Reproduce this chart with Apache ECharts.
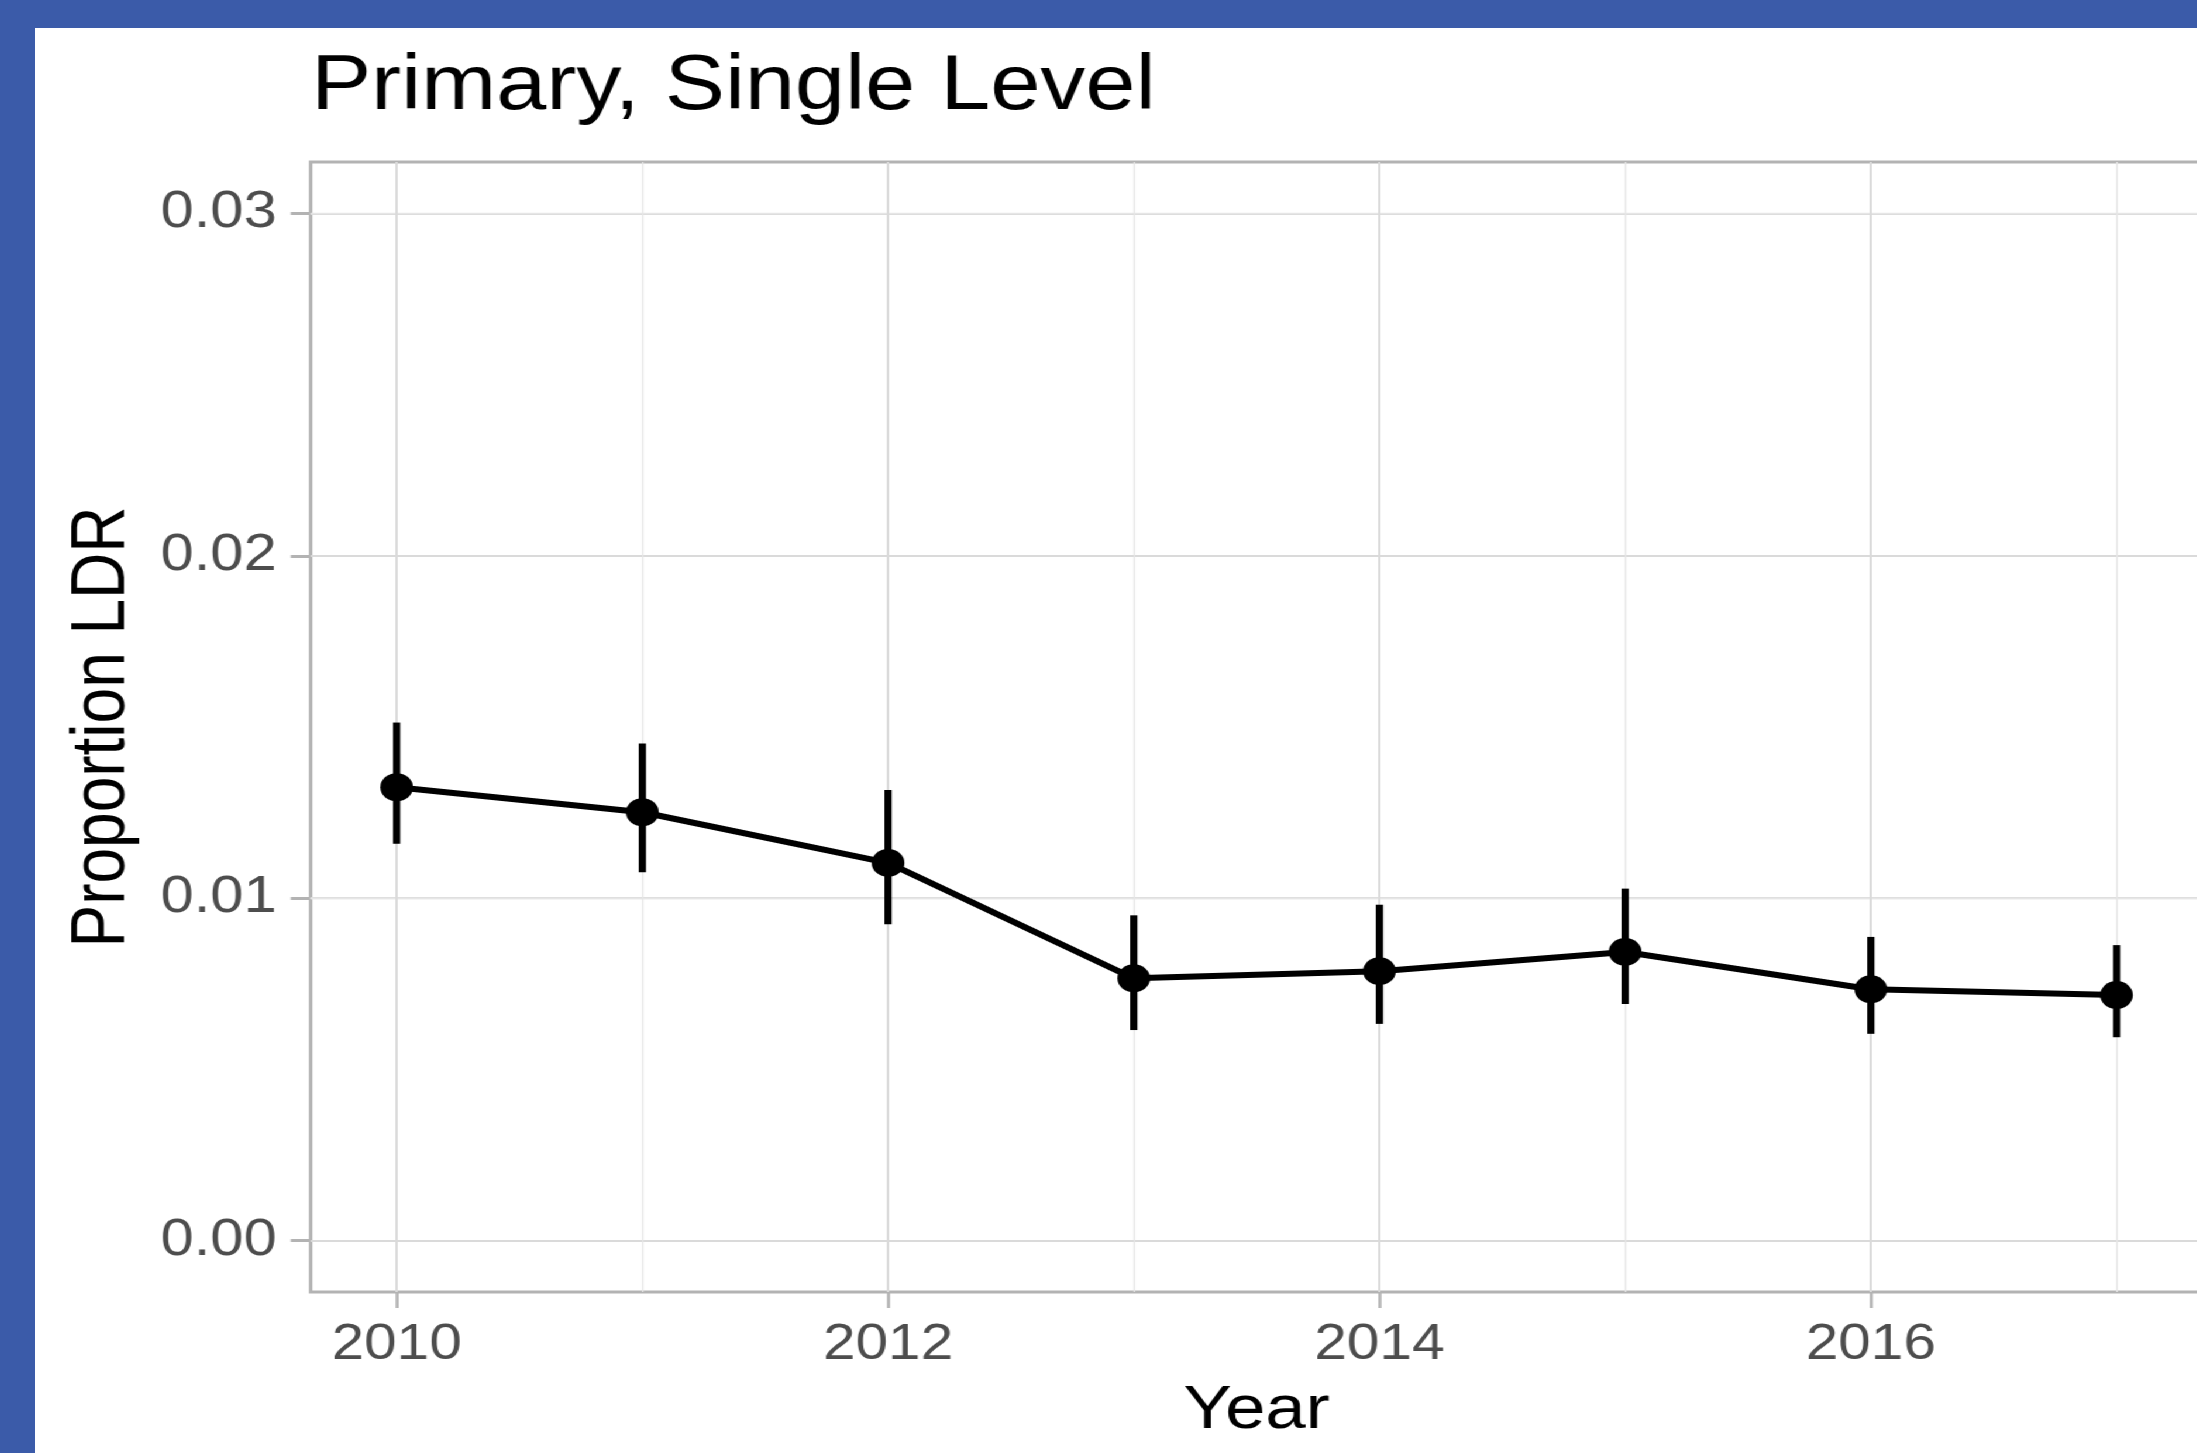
<!DOCTYPE html>
<html>
<head>
<meta charset="utf-8">
<script src="https://cdn.jsdelivr.net/npm/echarts@6/dist/echarts.min.js"></script>
<style>
  html, body { margin: 0; padding: 0; width: 2197px; height: 1453px; overflow: hidden; background: #3B5BA9; }
  #chart {
    position: absolute; left: 35px; top: 28px;
    width: 1848px; height: 1425px; background: #ffffff;
    transform: scaleX(1.17); transform-origin: 0 0;
  }
</style>
</head>
<body>
<div id="chart"></div>
<script>
// ---- data ----
const years = [2010, 2011, 2012, 2013, 2014, 2015, 2016, 2017];
const proportion = [0.01324, 0.01251, 0.01103, 0.00766, 0.00787, 0.00843, 0.00734, 0.00717];
const lower = [0.01159, 0.01076, 0.00924, 0.00615, 0.00633, 0.00691, 0.00604, 0.00594];
const upper = [0.01513, 0.01452, 0.01316, 0.00950, 0.00981, 0.01028, 0.00887, 0.00863];
const yTicks = [0, 0.01, 0.02, 0.03];
const yMinor = [0.005, 0.015, 0.025];
const xTicks = [2010, 2012, 2014, 2016];
const xMinor = [2011, 2013, 2015, 2017];
const titleText = 'Primary, Single Level';
const xName = 'Year';
const yName = 'Proportion LDR';

// ---- chart ----
const chart = echarts.init(document.getElementById('chart'), null, { renderer: 'canvas' });
const FONT = '"Liberation Sans", Arial, Helvetica, sans-serif';

const majorStyle = { color: '#dadada', width: 2, type: 'solid' };
const minorStyle = { color: '#e6e6e6', width: 1.3, type: 'solid' };
const gridLines = [];
yTicks.forEach(v => gridLines.push({ yAxis: v, lineStyle: majorStyle }));
yMinor.forEach(v => gridLines.push({ yAxis: v, lineStyle: minorStyle }));
xTicks.forEach(v => gridLines.push({ xAxis: v, lineStyle: majorStyle }));
xMinor.forEach(v => gridLines.push({ xAxis: v, lineStyle: minorStyle }));

const lineData = years.map((y, i) => [y, proportion[i]]);
const barData = years.map((y, i) => [y, lower[i], upper[i]]);

chart.setOption({
  animation: false,
  backgroundColor: '#ffffff',
  title: {
    text: titleText,
    left: 236, top: 21, padding: 0,
    textStyle: { fontFamily: FONT, fontSize: 77, fontWeight: 'normal', color: '#000000' }
  },
  grid: {
    left: 235.6, top: 134, width: 1617, height: 1130,
    show: true, borderColor: '#b3b3b3', borderWidth: 3, backgroundColor: 'transparent',
    containLabel: false, outerBoundsMode: 'none'
  },
  xAxis: {
    type: 'value', min: 2009.65, max: 2017.35,
    name: xName, nameLocation: 'middle', nameGap: 88,
    nameTextStyle: { fontFamily: FONT, fontSize: 62, color: '#000000' },
    axisLine: { show: false, onZero: false },
    axisTick: { show: true, customValues: xTicks, length: 16, lineStyle: { color: '#b3b3b3', width: 2.6 } },
    axisLabel: { show: true, customValues: xTicks, margin: 28, fontFamily: FONT, fontSize: 50, color: '#4d4d4d',
      formatter: v => String(v) },
    splitLine: { show: false }
  },
  yAxis: {
    type: 'value', min: -0.0015, max: 0.0315,
    name: yName, nameLocation: 'middle', nameGap: 145,
    nameTextStyle: { fontFamily: FONT, fontSize: 64, color: '#000000' },
    axisLine: { show: false, onZero: false },
    axisTick: { show: true, customValues: yTicks, length: 17, lineStyle: { color: '#b3b3b3', width: 3 } },
    axisLabel: { show: true, customValues: yTicks, margin: 29, fontFamily: FONT, fontSize: 51, color: '#4d4d4d',
      formatter: v => v.toFixed(2) },
    splitLine: { show: false }
  },
  series: [
    {
      type: 'line', data: [], z: 1, silent: true,
      markLine: { z: 1, silent: true, symbol: 'none', label: { show: false }, animation: false, data: gridLines }
    },
    {
      type: 'custom', z: 3, data: barData, silent: true,
      encode: { x: 0, y: [1, 2] },
      renderItem: function (params, api) {
        const p1 = api.coord([api.value(0), api.value(1)]);
        const p2 = api.coord([api.value(0), api.value(2)]);
        const w = 6.2;
        return { type: 'rect',
          shape: { x: p1[0] - w / 2, y: Math.min(p1[1], p2[1]), width: w, height: Math.abs(p1[1] - p2[1]) },
          style: { fill: '#000000' } };
      }
    },
    {
      type: 'line', z: 4, data: lineData,
      symbol: 'circle', symbolSize: 28, showSymbol: true,
      itemStyle: { color: '#000000' },
      lineStyle: { color: '#000000', width: 6 }
    }
  ]
});
</script>
</body>
</html>
